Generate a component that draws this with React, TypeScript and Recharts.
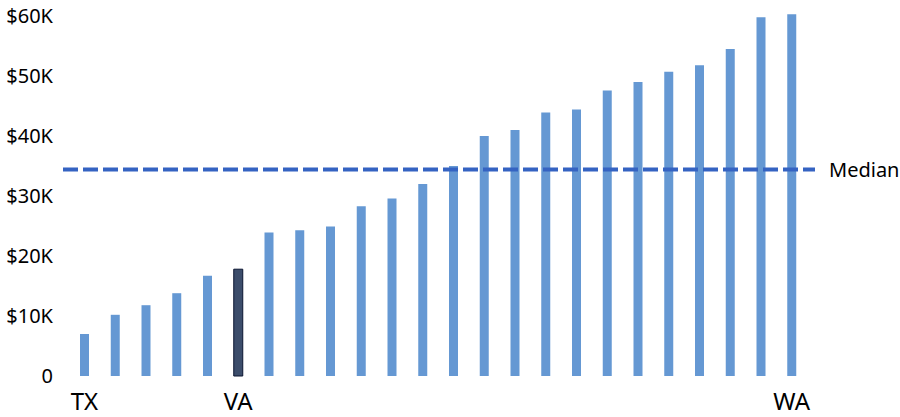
import { BarChart, Bar, Cell, XAxis, YAxis, ReferenceLine } from "recharts"

const labels = ["TX", "", "", "", "", "VA", "", "", "", "", "", "", "", "", "", "", "", "", "", "", "", "", "", "WA"]
const values = [
  7000, 10200, 11800, 13800, 16700, 17800, 23900, 24300, 24900, 28300, 29600, 32000,
  35000, 40000, 41000, 43900, 44400, 47600, 49000, 50700, 51800, 54500, 59800, 60300,
]
const highlight = "VA"
const median = 34400
const yTicks = [0, 10000, 20000, 30000, 40000, 50000, 60000]

const data = values.map((v, i) => ({ idx: i, value: v }))

const font = "'Noto Sans', sans-serif"

export default function App() {
  return (
    <div style={{ position: "absolute", left: 0, top: 0, fontFamily: font }}>
      <BarChart width={900} height={417} data={data} margin={{ top: 10, right: 85, left: 0, bottom: 0 }}>
        <XAxis
          dataKey="idx"
          axisLine={false}
          tickLine={false}
          interval={0}
          height={41}
          tickMargin={11}
          padding={{ left: 6, right: 8 }}
          tickFormatter={(i) => labels[i]}
          tick={{ fill: "#000", fontSize: 24, fontFamily: font }}
        />
        <YAxis
          width={63}
          domain={[0, 61000]}
          ticks={yTicks}
          axisLine={false}
          tickLine={false}
          tickMargin={4}
          tickFormatter={(v) => (v === 0 ? "0" : `$${v / 1000}K`)}
          tick={{ fill: "#000", fontSize: 20, fontFamily: font }}
        />
        <Bar dataKey="value" barSize={9} isAnimationActive={false}>
          {data.map((d) =>
            labels[d.idx] === highlight ? (
              <Cell key={d.idx} fill="#3c4d6b" stroke="#0a1530" strokeWidth={1} />
            ) : (
              <Cell key={d.idx} fill="#6598d3" />
            )
          )}
        </Bar>
        <ReferenceLine
          y={median}
          stroke="#3563c2"
          strokeWidth={4}
          strokeDasharray="15 5"
          label={{ value: "Median", position: "right", offset: 14, fill: "#000", fontSize: 20, fontFamily: font }}
        />
      </BarChart>
    </div>
  )
}
